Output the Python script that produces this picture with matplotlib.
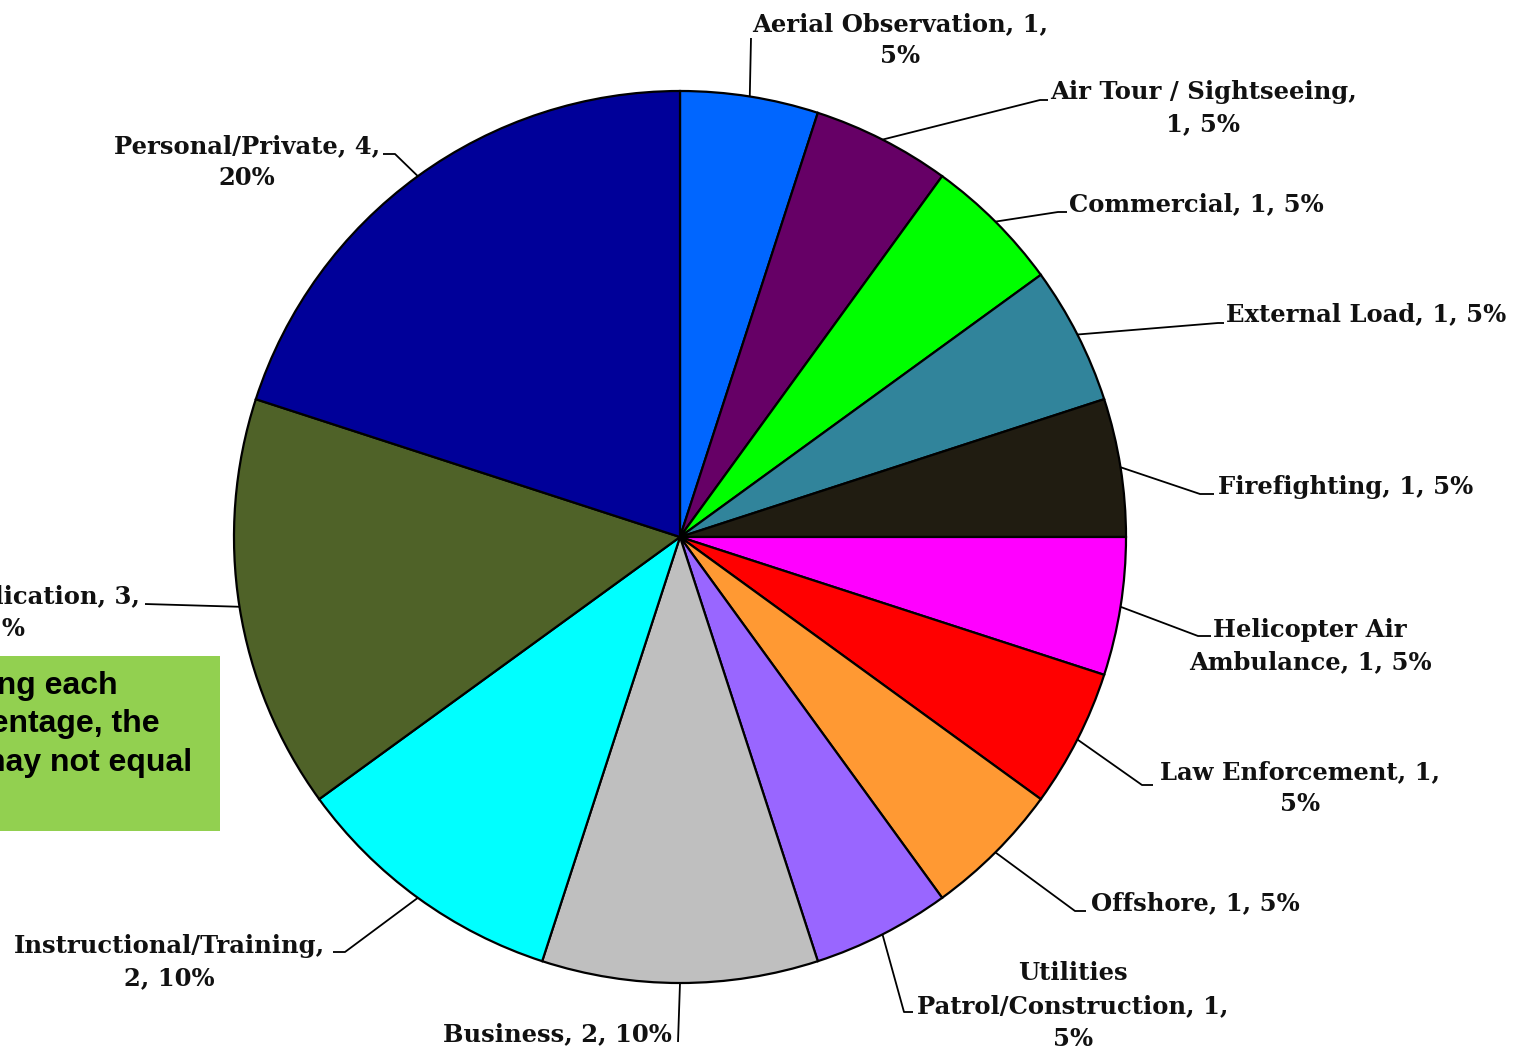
import numpy as np
import matplotlib.pyplot as plt
from matplotlib.patches import Rectangle

# data
categories = ["Aerial Observation", "Air Tour / Sightseeing", "Commercial", "External Load",
              "Firefighting", "Helicopter Air Ambulance", "Law Enforcement", "Offshore",
              "Utilities Patrol/Construction", "Business", "Instructional/Training",
              "Aerial Application", "Personal/Private"]
counts = [1, 1, 1, 1, 1, 1, 1, 1, 1, 2, 2, 3, 4]
colors = ["#0066FF", "#660066", "#00FF00", "#31849B", "#201C11", "#FF00FF", "#FF0000",
          "#FF9933", "#9966FF", "#BFBFBF", "#00FFFF", "#4F6228", "#000099"]

note_lines = ["Due to rounding each", "percentage, the", "total may not equal"]

W, H = 1519, 1052
cx, cy, R = 680, 537, 446   # pie centre / radius in image pixels

# label text layout: {c} category, {n} count, {p} percent
label_fmt = ["{c}, {n},\n{p}%", "{c},\n{n}, {p}%", "{c}, {n}, {p}%", "{c}, {n}, {p}%",
             "{c}, {n}, {p}%", "Helicopter Air\nAmbulance, {n}, {p}%", "{c}, {n},\n{p}%",
             "{c}, {n}, {p}%", "Utilities\nPatrol/Construction, {n},\n{p}%", "{c}, {n}, {p}%",
             "{c},\n{n}, {p}%", "{c}, {n},\n{p}%", "{c}, {n},\n{p}%"]
# (text x, text y, ha, va, leader elbow points) in image pixels
label_pos = [
    (900, 40, "center", "center", [(751, 38)]),
    (1050, 108, "left", "center", [(1040, 100), (1048, 100)]),
    (1069, 204, "left", "center", [(1058, 212), (1067, 212)]),
    (1226, 314, "left", "center", [(1218, 323), (1224, 323)]),
    (1218, 487, "left", "center", [(1200, 494), (1214, 494)]),
    (1310, 646, "center", "center", [(1198, 636), (1211, 636)]),
    (1300, 788, "center", "center", [(1142, 785), (1153, 785)]),
    (1091, 903, "left", "center", [(1075, 911), (1086, 911)]),
    (1073, 1006, "center", "center", [(904, 1012), (913, 1012)]),
    (672, 1034, "right", "center", [(678, 1042)]),
    (325, 962, "right", "center", [(345, 952), (333, 952)]),
    (140, 613, "right", "center", [(145, 604)]),
    (380, 162, "right", "center", [(395, 154), (383, 154)]),
]

fig = plt.figure(figsize=(W / 100, H / 100), dpi=100)
ax = fig.add_axes([0, 0, 1, 1])

total = sum(counts)
ax.pie(counts, colors=colors, startangle=90, counterclock=False,
       center=(cx, H - cy), radius=R,
       wedgeprops=dict(edgecolor="black", linewidth=1.6))
ax.set_xlim(0, W)
ax.set_ylim(0, H)
ax.set_aspect("equal")
ax.axis("off")

font = dict(family="DejaVu Serif", fontweight="bold", fontsize=17.5, color="#111111")

cum = np.cumsum([0] + counts)
for i, c in enumerate(categories):
    mid = (cum[i] + cum[i + 1]) / 2 / total * 2 * np.pi
    ex = cx + R * np.sin(mid)
    ey = cy - R * np.cos(mid)
    pct = round(100 * counts[i] / total)
    txt = label_fmt[i].format(c=c, n=counts[i], p=pct)
    tx, ty, ha, va, pts = label_pos[i]
    xs = [ex] + [p[0] for p in pts]
    ys = [H - ey] + [H - p[1] for p in pts]
    ax.plot(xs, ys, color="black", linewidth=1.3, solid_capstyle="butt")
    ax.text(tx, H - ty, txt, ha=ha, va=va, multialignment="center",
            linespacing=1.45, **font)

# rounding note (box cropped at the left edge)
ax.add_patch(Rectangle((0, H - 831), 220, 175, facecolor="#92D050", edgecolor="none"))
for line, xr, yy in zip(note_lines, [118, 160, 192], [686, 724, 763]):
    ax.text(xr, H - yy, line, ha="right", va="center", family="Liberation Sans",
            fontweight="bold", fontsize=23, color="black")

fig.savefig("out.png", dpi=100)
